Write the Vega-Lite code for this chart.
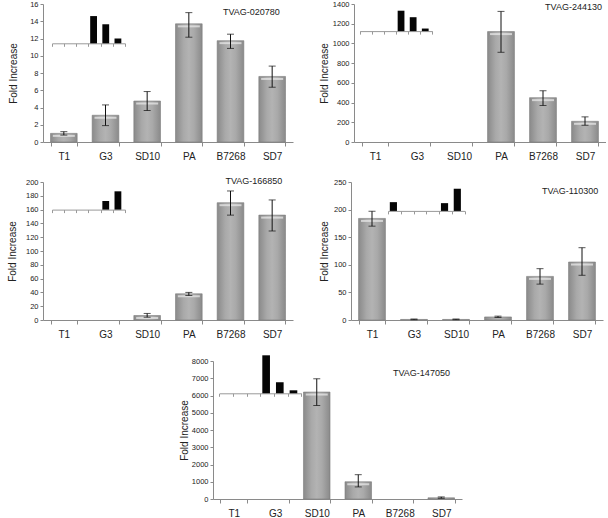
{
  "$schema": "https://vega.github.io/schema/vega-lite/v6.json",
  "padding": {"left": 7, "top": 0, "right": 0, "bottom": 0},
  "spacing": 16,
  "config": {
    "view": {"stroke": null},
    "axis": {"labelFont": "Liberation Sans", "titleFont": "Liberation Sans", "domainColor": "#8a8a8a", "tickColor": "#8a8a8a", "labelColor": "#222", "titleColor": "#222", "titleFontWeight": "normal", "grid": false},
    "axisX": {"labelFontSize": 10, "labelAngle": 0, "tickSize": 4, "labelPadding": 5, "tickBand": "extent"},
    "axisY": {"labelFontSize": 7.5, "tickSize": 3, "labelPadding": 2, "titleFontSize": 10, "format": "d", "labelOverlap": false, "tickCount": 20}
  },
  "vconcat": [
    {
      "hconcat": [
        {
          "width": 250, "height": 138,
          "layer": [
            {
              "data": {"values": [
                {"cell": "T1", "value": 1.0, "lo": 0.8, "hi": 1.2},
                {"cell": "G3", "value": 3.1, "lo": 1.9, "hi": 4.3},
                {"cell": "SD10", "value": 4.75, "lo": 3.65, "hi": 5.85},
                {"cell": "PA", "value": 13.7, "lo": 12.15, "hi": 15.0},
                {"cell": "B7268", "value": 11.75, "lo": 10.85, "hi": 12.5},
                {"cell": "SD7", "value": 7.6, "lo": 6.35, "hi": 8.8}
              ]},
              "encoding": {"x": {"field": "cell", "type": "nominal", "scale": {"domain": ["T1", "G3", "SD10", "PA", "B7268", "SD7"], "paddingInner": 0.36, "paddingOuter": 0.18}, "axis": {"title": null}}},
              "layer": [
                {"mark": {"type": "bar", "fill": {"gradient": "linear", "x1": 0, "x2": 1, "y1": 0, "y2": 0, "stops": [{"offset": 0, "color": "#8a8a8a"}, {"offset": 0.3, "color": "#a9a9a9"}, {"offset": 0.5, "color": "#b3b3b3"}, {"offset": 0.7, "color": "#a9a9a9"}, {"offset": 1, "color": "#8a8a8a"}]}, "stroke": "#7c7c7c", "strokeWidth": 0.6},
                 "encoding": {"y": {"field": "value", "type": "quantitative", "scale": {"domain": [0, 16], "nice": false}, "axis": {"values": [0, 2, 4, 6, 8, 10, 12, 14, 16], "tickCount": 20, "labelOverlap": false, "title": "Fold Increase", "titlePadding": 11}}}},
                {"transform": [{"filter": "datum.value > 0.5"}], "mark": {"type": "tick", "color": "#ebebeb", "thickness": 2, "size": 22, "yOffset": 2.5}, "encoding": {"y": {"field": "value", "type": "quantitative"}}},
                {"mark": {"type": "rule", "color": "#111"}, "encoding": {"y": {"field": "lo", "type": "quantitative"}, "y2": {"field": "hi"}}},
                {"mark": {"type": "tick", "color": "#111", "size": 7, "thickness": 1}, "encoding": {"y": {"field": "lo", "type": "quantitative"}}},
                {"mark": {"type": "tick", "color": "#111", "size": 7, "thickness": 1}, "encoding": {"y": {"field": "hi", "type": "quantitative"}}},
                {"data": {"values": [{"gene": "TVAG-020780"}]}, "mark": {"type": "text", "font": "Liberation Sans", "fontSize": 9, "color": "#222", "dx": -7.5},
                 "encoding": {"x": {"datum": "SD7", "bandPosition": 0}, "y": {"datum": 15.1}, "text": {"field": "gene"}}}
              ]
            },
            {
              "data": {"values": [{"cell": "PA", "top": 14.6}, {"cell": "B7268", "top": 13.65}, {"cell": "SD7", "top": 12.0}]},
              "mark": {"type": "bar", "fill": "#050505", "width": {"band": 0.56}, "xOffset": -1},
              "encoding": {
                "x": {"field": "cell", "type": "nominal", "scale": {"domain": ["T1", "G3", "SD10", "PA", "B7268", "SD7"], "range": [9, 82], "paddingInner": 0, "paddingOuter": 0}, "axis": {"orient": "bottom", "title": null, "labels": false, "tickBand": "extent", "tickSize": 3, "offset": -98.7, "domainColor": "#999", "tickColor": "#999"}},
                "y": {"field": "top", "type": "quantitative", "scale": {"domain": [0, 16], "nice": false}, "axis": {"values": [0, 2, 4, 6, 8, 10, 12, 14, 16], "tickCount": 20, "labelOverlap": false, "title": "Fold Increase"}},
                "y2": {"datum": 11.44}
              }
            }
          ],
          "resolve": {"scale": {"x": "independent"}, "axis": {"x": "independent"}}
        },
        {
          "width": 252, "height": 138,
          "layer": [
            {
              "data": {"values": [
                {"cell": "PA", "value": 1120, "lo": 910, "hi": 1325},
                {"cell": "B7268", "value": 450, "lo": 370, "hi": 520},
                {"cell": "SD7", "value": 210, "lo": 170, "hi": 255}
              ]},
              "encoding": {"x": {"field": "cell", "type": "nominal", "scale": {"domain": ["T1", "G3", "SD10", "PA", "B7268", "SD7"], "paddingInner": 0.36, "paddingOuter": 0.18}, "axis": {"title": null}}},
              "layer": [
                {"mark": {"type": "bar", "fill": {"gradient": "linear", "x1": 0, "x2": 1, "y1": 0, "y2": 0, "stops": [{"offset": 0, "color": "#8a8a8a"}, {"offset": 0.3, "color": "#a9a9a9"}, {"offset": 0.5, "color": "#b3b3b3"}, {"offset": 0.7, "color": "#a9a9a9"}, {"offset": 1, "color": "#8a8a8a"}]}, "stroke": "#7c7c7c", "strokeWidth": 0.6},
                 "encoding": {"y": {"field": "value", "type": "quantitative", "scale": {"domain": [0, 1400], "nice": false}, "axis": {"values": [0, 200, 400, 600, 800, 1000, 1200, 1400], "tickCount": 20, "labelOverlap": false, "title": "Fold Increase", "titlePadding": 3}}}},
                {"transform": [{"filter": "datum.value > 50"}], "mark": {"type": "tick", "color": "#ebebeb", "thickness": 2, "size": 22, "yOffset": 2.5}, "encoding": {"y": {"field": "value", "type": "quantitative"}}},
                {"mark": {"type": "rule", "color": "#111"}, "encoding": {"y": {"field": "lo", "type": "quantitative"}, "y2": {"field": "hi"}}},
                {"mark": {"type": "tick", "color": "#111", "size": 7, "thickness": 1}, "encoding": {"y": {"field": "lo", "type": "quantitative"}}},
                {"mark": {"type": "tick", "color": "#111", "size": 7, "thickness": 1}, "encoding": {"y": {"field": "hi", "type": "quantitative"}}},
                {"data": {"values": [{"gene": "TVAG-244130"}]}, "mark": {"type": "text", "font": "Liberation Sans", "fontSize": 9, "color": "#222", "dx": 2},
                 "encoding": {"x": {"datum": "SD7", "bandPosition": 0}, "y": {"datum": 1370}, "text": {"field": "gene"}}}
              ]
            },
            {
              "data": {"values": [{"cell": "PA", "top": 1332}, {"cell": "B7268", "top": 1266}, {"cell": "SD7", "top": 1151}]},
              "mark": {"type": "bar", "fill": "#050505", "width": {"band": 0.56}, "xOffset": -1},
              "encoding": {
                "x": {"field": "cell", "type": "nominal", "scale": {"domain": ["T1", "G3", "SD10", "PA", "B7268", "SD7"], "range": [5.7, 78.3], "paddingInner": 0, "paddingOuter": 0}, "axis": {"orient": "bottom", "title": null, "labels": false, "tickBand": "extent", "tickSize": 3, "offset": -110.9, "domainColor": "#999", "tickColor": "#999"}},
                "y": {"field": "top", "type": "quantitative", "scale": {"domain": [0, 1400], "nice": false}, "axis": {"values": [0, 200, 400, 600, 800, 1000, 1200, 1400], "tickCount": 20, "labelOverlap": false, "title": "Fold Increase"}},
                "y2": {"datum": 1125}
              }
            }
          ],
          "resolve": {"scale": {"x": "independent"}, "axis": {"x": "independent"}}
        }
      ],
      "spacing": 26
    },
    {
      "hconcat": [
        {
          "width": 250, "height": 138,
          "layer": [
            {
              "data": {"values": [
                {"cell": "SD10", "value": 6.5, "lo": 4.0, "hi": 9.5},
                {"cell": "PA", "value": 38, "lo": 35.5, "hi": 40},
                {"cell": "B7268", "value": 170, "lo": 152, "hi": 187},
                {"cell": "SD7", "value": 152, "lo": 129, "hi": 174}
              ]},
              "encoding": {"x": {"field": "cell", "type": "nominal", "scale": {"domain": ["T1", "G3", "SD10", "PA", "B7268", "SD7"], "paddingInner": 0.36, "paddingOuter": 0.18}, "axis": {"title": null}}},
              "layer": [
                {"mark": {"type": "bar", "fill": {"gradient": "linear", "x1": 0, "x2": 1, "y1": 0, "y2": 0, "stops": [{"offset": 0, "color": "#8a8a8a"}, {"offset": 0.3, "color": "#a9a9a9"}, {"offset": 0.5, "color": "#b3b3b3"}, {"offset": 0.7, "color": "#a9a9a9"}, {"offset": 1, "color": "#8a8a8a"}]}, "stroke": "#7c7c7c", "strokeWidth": 0.6},
                 "encoding": {"y": {"field": "value", "type": "quantitative", "scale": {"domain": [0, 200], "nice": false}, "axis": {"values": [0, 20, 40, 60, 80, 100, 120, 140, 160, 180, 200], "tickCount": 20, "labelOverlap": false, "title": "Fold Increase", "titlePadding": 8}}}},
                {"transform": [{"filter": "datum.value > 5"}], "mark": {"type": "tick", "color": "#ebebeb", "thickness": 2, "size": 22, "yOffset": 2.5}, "encoding": {"y": {"field": "value", "type": "quantitative"}}},
                {"mark": {"type": "rule", "color": "#111"}, "encoding": {"y": {"field": "lo", "type": "quantitative"}, "y2": {"field": "hi"}}},
                {"mark": {"type": "tick", "color": "#111", "size": 7, "thickness": 1}, "encoding": {"y": {"field": "lo", "type": "quantitative"}}},
                {"mark": {"type": "tick", "color": "#111", "size": 7, "thickness": 1}, "encoding": {"y": {"field": "hi", "type": "quantitative"}}},
                {"data": {"values": [{"gene": "TVAG-166850"}]}, "mark": {"type": "text", "font": "Liberation Sans", "fontSize": 9, "color": "#222", "dx": -5},
                 "encoding": {"x": {"datum": "SD7", "bandPosition": 0}, "y": {"datum": 201.4}, "text": {"field": "gene"}}}
              ]
            },
            {
              "data": {"values": [{"cell": "B7268", "top": 172.5}, {"cell": "SD7", "top": 186.5}]},
              "mark": {"type": "bar", "fill": "#050505", "width": {"band": 0.56}, "xOffset": -1},
              "encoding": {
                "x": {"field": "cell", "type": "nominal", "scale": {"domain": ["T1", "G3", "SD10", "PA", "B7268", "SD7"], "range": [9, 82], "paddingInner": 0, "paddingOuter": 0}, "axis": {"orient": "bottom", "title": null, "labels": false, "tickBand": "extent", "tickSize": 3, "offset": -110.4, "domainColor": "#999", "tickColor": "#999"}},
                "y": {"field": "top", "type": "quantitative", "scale": {"domain": [0, 200], "nice": false}, "axis": {"values": [0, 20, 40, 60, 80, 100, 120, 140, 160, 180, 200], "tickCount": 20, "labelOverlap": false, "title": "Fold Increase"}},
                "y2": {"datum": 160}
              }
            }
          ],
          "resolve": {"scale": {"x": "independent"}, "axis": {"x": "independent"}}
        },
        {
          "width": 252, "height": 138,
          "layer": [
            {
              "data": {"values": [
                {"cell": "T1", "value": 184, "lo": 170, "hi": 197},
                {"cell": "G3", "value": 1, "lo": 0.5, "hi": 1.8},
                {"cell": "SD10", "value": 1, "lo": 0.5, "hi": 1.8},
                {"cell": "PA", "value": 5.5, "lo": 4.5, "hi": 7},
                {"cell": "B7268", "value": 79, "lo": 65, "hi": 93},
                {"cell": "SD7", "value": 105, "lo": 81, "hi": 131}
              ]},
              "encoding": {"x": {"field": "cell", "type": "nominal", "scale": {"domain": ["T1", "G3", "SD10", "PA", "B7268", "SD7"], "paddingInner": 0.36, "paddingOuter": 0.18}, "axis": {"title": null}}},
              "layer": [
                {"mark": {"type": "bar", "fill": {"gradient": "linear", "x1": 0, "x2": 1, "y1": 0, "y2": 0, "stops": [{"offset": 0, "color": "#8a8a8a"}, {"offset": 0.3, "color": "#a9a9a9"}, {"offset": 0.5, "color": "#b3b3b3"}, {"offset": 0.7, "color": "#a9a9a9"}, {"offset": 1, "color": "#8a8a8a"}]}, "stroke": "#7c7c7c", "strokeWidth": 0.6},
                 "encoding": {"y": {"field": "value", "type": "quantitative", "scale": {"domain": [0, 250], "nice": false}, "axis": {"values": [0, 50, 100, 150, 200, 250], "tickCount": 20, "labelOverlap": false, "title": "Fold Increase", "titlePadding": 4}}}},
                {"transform": [{"filter": "datum.value > 10"}], "mark": {"type": "tick", "color": "#ebebeb", "thickness": 2, "size": 22, "yOffset": 2.5}, "encoding": {"y": {"field": "value", "type": "quantitative"}}},
                {"mark": {"type": "rule", "color": "#111"}, "encoding": {"y": {"field": "lo", "type": "quantitative"}, "y2": {"field": "hi"}}},
                {"mark": {"type": "tick", "color": "#111", "size": 7, "thickness": 1}, "encoding": {"y": {"field": "lo", "type": "quantitative"}}},
                {"mark": {"type": "tick", "color": "#111", "size": 7, "thickness": 1}, "encoding": {"y": {"field": "hi", "type": "quantitative"}}},
                {"data": {"values": [{"gene": "TVAG-110300"}]}, "mark": {"type": "text", "font": "Liberation Sans", "fontSize": 9, "color": "#222", "dx": 1.5},
                 "encoding": {"x": {"datum": "SD7", "bandPosition": 0}, "y": {"datum": 233.6}, "text": {"field": "gene"}}}
              ]
            },
            {
              "data": {"values": [{"cell": "T1", "top": 213.5}, {"cell": "B7268", "top": 211.7}, {"cell": "SD7", "top": 237.8}]},
              "mark": {"type": "bar", "fill": "#050505", "width": {"band": 0.56}, "xOffset": -1},
              "encoding": {
                "x": {"field": "cell", "type": "nominal", "scale": {"domain": ["T1", "G3", "SD10", "PA", "B7268", "SD7"], "range": [37, 113.7], "paddingInner": 0, "paddingOuter": 0}, "axis": {"orient": "bottom", "title": null, "labels": false, "tickBand": "extent", "tickSize": 3, "offset": -109.1, "domainColor": "#999", "tickColor": "#999"}},
                "y": {"field": "top", "type": "quantitative", "scale": {"domain": [0, 250], "nice": false}, "axis": {"values": [0, 50, 100, 150, 200, 250], "tickCount": 20, "labelOverlap": false, "title": "Fold Increase"}},
                "y2": {"datum": 197.6}
              }
            }
          ],
          "resolve": {"scale": {"x": "independent"}, "axis": {"x": "independent"}}
        }
      ],
      "spacing": 26
    },
    {
      "hconcat": [
        {"width": 136, "height": 138, "data": {"values": []}, "mark": {"type": "point", "opacity": 0}},
        {
          "width": 249, "height": 138,
          "layer": [
            {
              "data": {"values": [
                {"cell": "SD10", "value": 6200, "lo": 5420, "hi": 6970},
                {"cell": "PA", "value": 1000, "lo": 700, "hi": 1410},
                {"cell": "SD7", "value": 70, "lo": 40, "hi": 120}
              ]},
              "encoding": {"x": {"field": "cell", "type": "nominal", "scale": {"domain": ["T1", "G3", "SD10", "PA", "B7268", "SD7"], "paddingInner": 0.36, "paddingOuter": 0.18}, "axis": {"title": null}}},
              "layer": [
                {"mark": {"type": "bar", "fill": {"gradient": "linear", "x1": 0, "x2": 1, "y1": 0, "y2": 0, "stops": [{"offset": 0, "color": "#8a8a8a"}, {"offset": 0.3, "color": "#a9a9a9"}, {"offset": 0.5, "color": "#b3b3b3"}, {"offset": 0.7, "color": "#a9a9a9"}, {"offset": 1, "color": "#8a8a8a"}]}, "stroke": "#7c7c7c", "strokeWidth": 0.6},
                 "encoding": {"y": {"field": "value", "type": "quantitative", "scale": {"domain": [0, 8000], "nice": false}, "axis": {"values": [0, 1000, 2000, 3000, 4000, 5000, 6000, 7000, 8000], "tickCount": 20, "labelOverlap": false, "title": "Fold Increase", "titlePadding": 2}}}},
                {"transform": [{"filter": "datum.value > 300"}], "mark": {"type": "tick", "color": "#ebebeb", "thickness": 2, "size": 22, "yOffset": 2.5}, "encoding": {"y": {"field": "value", "type": "quantitative"}}},
                {"mark": {"type": "rule", "color": "#111"}, "encoding": {"y": {"field": "lo", "type": "quantitative"}, "y2": {"field": "hi"}}},
                {"mark": {"type": "tick", "color": "#111", "size": 7, "thickness": 1}, "encoding": {"y": {"field": "lo", "type": "quantitative"}}},
                {"mark": {"type": "tick", "color": "#111", "size": 7, "thickness": 1}, "encoding": {"y": {"field": "hi", "type": "quantitative"}}},
                {"data": {"values": [{"gene": "TVAG-147050"}]}, "mark": {"type": "text", "font": "Liberation Sans", "fontSize": 9, "color": "#222", "dx": -6.5},
                 "encoding": {"x": {"datum": "SD7", "bandPosition": 0}, "y": {"datum": 7304}, "text": {"field": "gene"}}}
              ]
            },
            {
              "data": {"values": [{"cell": "PA", "top": 8330}, {"cell": "B7268", "top": 6765}, {"cell": "SD7", "top": 6301}]},
              "mark": {"type": "bar", "fill": "#050505", "width": {"band": 0.56}, "xOffset": -1},
              "encoding": {
                "x": {"field": "cell", "type": "nominal", "scale": {"domain": ["T1", "G3", "SD10", "PA", "B7268", "SD7"], "range": [6.3, 88.3], "paddingInner": 0, "paddingOuter": 0}, "axis": {"orient": "bottom", "title": null, "labels": false, "tickBand": "extent", "tickSize": 3, "offset": -105.7, "domainColor": "#999", "tickColor": "#999"}},
                "y": {"field": "top", "type": "quantitative", "scale": {"domain": [0, 8000], "nice": false}, "axis": {"values": [0, 1000, 2000, 3000, 4000, 5000, 6000, 7000, 8000], "tickCount": 20, "labelOverlap": false, "title": "Fold Increase"}},
                "y2": {"datum": 6128}
              }
            }
          ],
          "resolve": {"scale": {"x": "independent"}, "axis": {"x": "independent"}}
        }
      ],
      "spacing": 0
    }
  ]
}
